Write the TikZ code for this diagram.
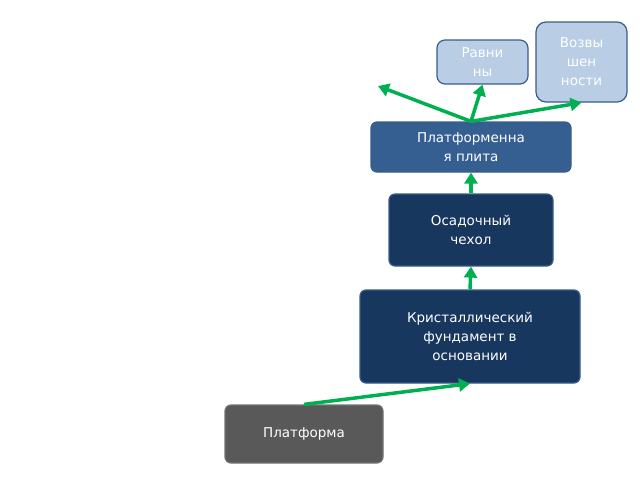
\documentclass[tikz,border=0pt]{standalone}
\usepackage{fontspec}
\setmainfont{DejaVu Sans}
\usetikzlibrary{arrows.meta}
\definecolor{navy}{HTML}{17375E}
\definecolor{midblue}{HTML}{365F91}
\definecolor{lightb}{HTML}{B9CDE5}
\definecolor{edgeb}{HTML}{385D8A}
\definecolor{grn}{HTML}{00B050}
\begin{document}
\begin{tikzpicture}[x=1pt,y=-1pt,
 box/.style={draw=edgeb,line width=1.2pt,rounded corners=6pt,text=white,align=center,
   font=\fontsize{13.5}{19}\selectfont,inner sep=0pt},
 arr/.style={draw=grn,line width=3.5pt,-{Triangle[length=11pt,width=13pt]}}]
\useasboundingbox (0,0) rectangle (640,480);
\node[box,fill=black!65,draw=black!55,minimum width=158pt,minimum height=58pt] (p) at (304,434) {Платформа};
\node[box,fill=navy,minimum width=220pt,minimum height=93pt] (k) at (470,336.5) {Кристаллический\\фундамент в\\основании};
\node[box,fill=navy,minimum width=164pt,minimum height=72pt] (o) at (471,230) {Осадочный\\чехол};
\node[box,fill=midblue,minimum width=200pt,minimum height=50pt] (pl) at (471,147) {Платформенна\\я плита};
\node[box,fill=lightb,minimum width=91pt,minimum height=44pt,rounded corners=8pt] (r) at (482.5,62) {Равни\\ны};
\node[box,fill=lightb,minimum width=91pt,minimum height=80pt,rounded corners=10pt] (v) at (581.5,62) {Возвы\\шен\\ности};
\coordinate (free) at (378,86);
\draw[arr] (p.north) -- (k.south);
\draw[arr] (k.north) -- (o.south);
\draw[arr] (o.north) -- (pl.south);
\draw[arr] (pl.north) -- (free);
\draw[arr] (pl.north) -- (r.south);
\draw[arr] (pl.north) -- (v.south);
\end{tikzpicture}
\end{document}
